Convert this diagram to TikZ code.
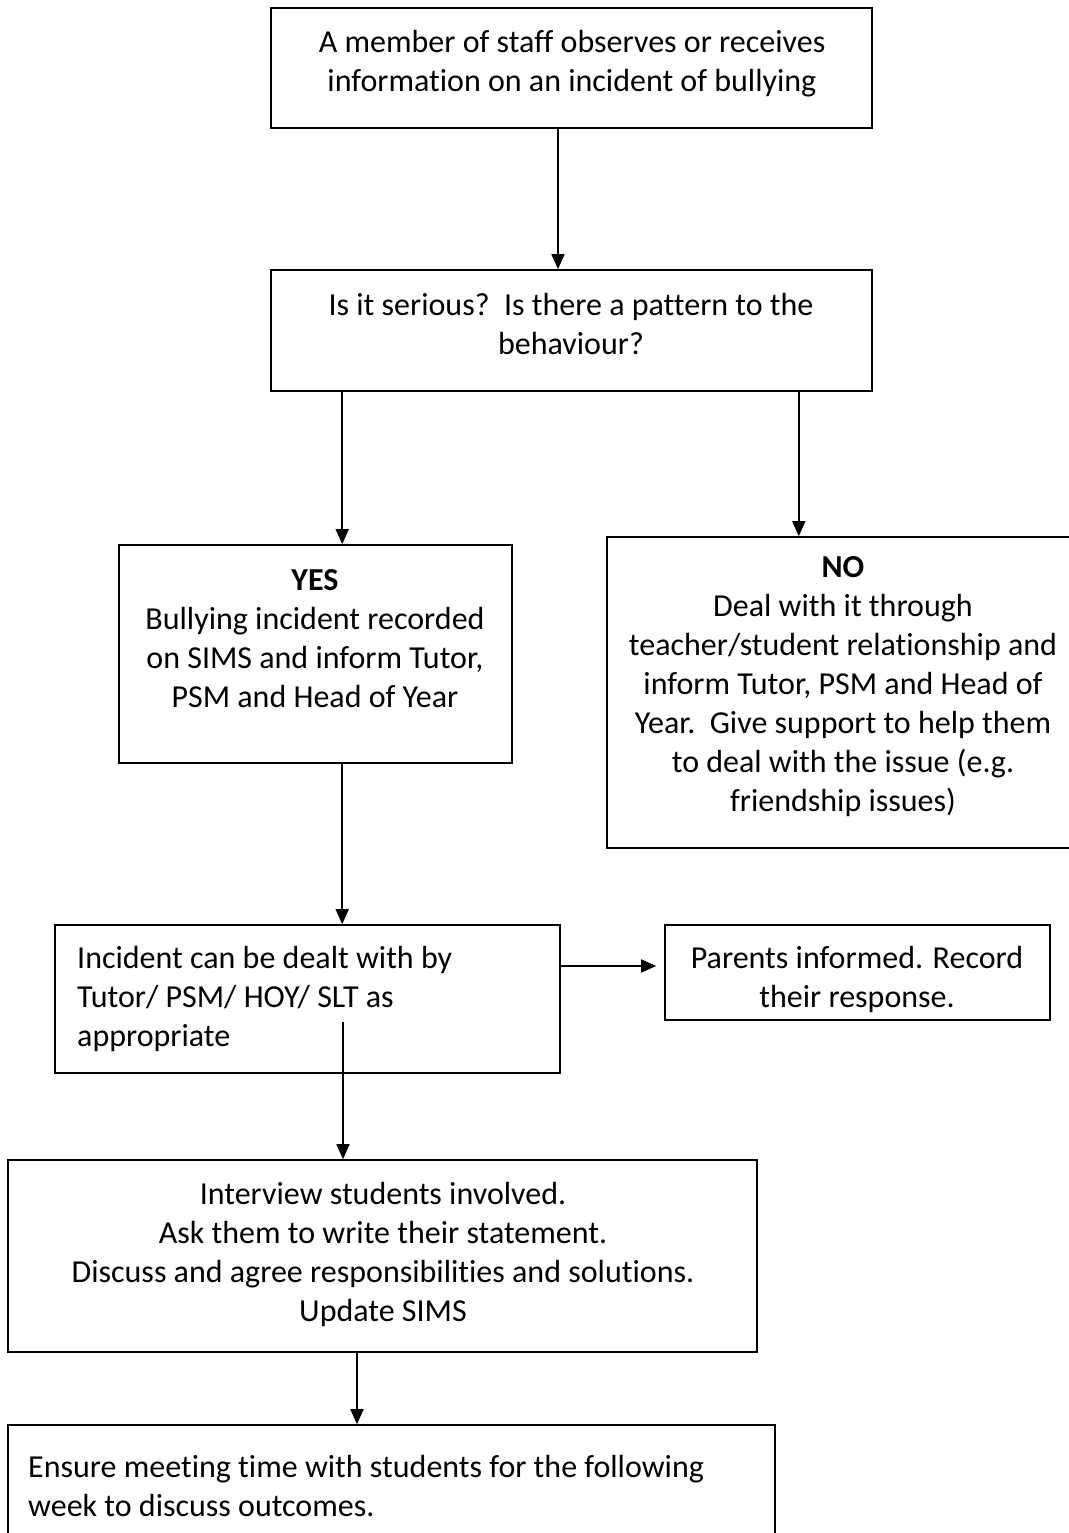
\documentclass[tikz,border=0pt]{standalone}
\usepackage{fontspec}
\setmainfont[Ligatures=NoCommon]{Carlito}
\usetikzlibrary{arrows.meta}
\begin{document}
\begin{tikzpicture}[x=1pt,y=-1pt,
  box/.style={draw=black,line width=1.6pt,minimum width=#1,inner sep=0pt,shape=rectangle},
  txt/.style={inner sep=0pt,font=\fontsize{32}{39}\selectfont,text=black},
  arr/.style={draw=black,line width=1.6pt,-{Triangle[length=15pt,width=13pt]}}]
\useasboundingbox (0,0) rectangle (1068,1533);
% boxes
\node[box=601pt,minimum height=120pt] (b1) at (571.5,68) {};
\node[box=601pt,minimum height=121pt] (b2) at (571.5,330.5) {};
\node[box=393pt,minimum height=218pt] (yes) at (315.5,654) {};
\node[box=470pt,minimum height=311pt] (no) at (842,692.5) {};
\node[box=505pt,minimum height=148pt] (inc) at (307.5,999) {};
\node[box=385pt,minimum height=95pt] (par) at (857.5,972.5) {};
\node[box=749pt,minimum height=192pt] (iv) at (382.5,1256) {};
\node[box=767pt,minimum height=160pt] (fin) at (391.5,1505) {};
% texts
\node[txt,align=center] (t1) at (572,63.5) {A member of staff observes or receives\\information on an incident of bullying};
\node[txt,align=center] (t2) at (571,324.5) {Is it serious?\ \ Is there a pattern to the\\behaviour?};
\node[txt,align=center] (t3) at (315,639) {\textbf{YES}\\Bullying incident recorded\\on SIMS and inform Tutor,\\PSM and Head of Year};
\node[txt,align=center] (t4) at (843,686.5) {\textbf{NO}\\Deal with it through\\teacher/student relationship and\\inform Tutor, PSM and Head of\\Year.\ \ Give support to help them\\to deal with the issue (e.g.\\friendship issues)};
\node[txt,align=left,anchor=west] (t5) at (77,998.5) {Incident can be dealt with by\\Tutor/ PSM/ HOY/ SLT as\\appropriate};
\node[txt,align=center] (t6) at (857,979) {Parents informed. Record\\their response.};
\node[txt,align=center] (t7) at (383,1254) {Interview students involved.\\Ask them to write their statement.\\Discuss and agree responsibilities and solutions.\\Update SIMS};
\node[txt,align=left,anchor=west] (t8) at (28,1486) {Ensure meeting time with students for the following\\week to discuss outcomes.};
% connectors
\draw[arr] ([xshift=-13.5pt]b1.south) -- ([xshift=-13.5pt]b1.south |- b2.north);
\draw[arr] ([xshift=72pt]b2.south west) -- ([xshift=72pt]b2.south west |- yes.north);
\draw[arr] ([xshift=-74pt]b2.south east) -- ([xshift=-74pt]b2.south east |- no.north);
\draw[arr] ([xshift=224pt]yes.south west) -- ([xshift=224pt]yes.south west |- inc.north);
\draw[arr,shorten >=8pt] ([yshift=33pt]inc.east) -- ([yshift=6.5pt]par.west);
\coordinate (s) at (343,1022);
\draw[arr] (s) -- (s |- iv.north);
\draw[arr] ([xshift=-25.5pt]iv.south) -- ([xshift=-25.5pt]iv.south |- fin.north);
\end{tikzpicture}
\end{document}
